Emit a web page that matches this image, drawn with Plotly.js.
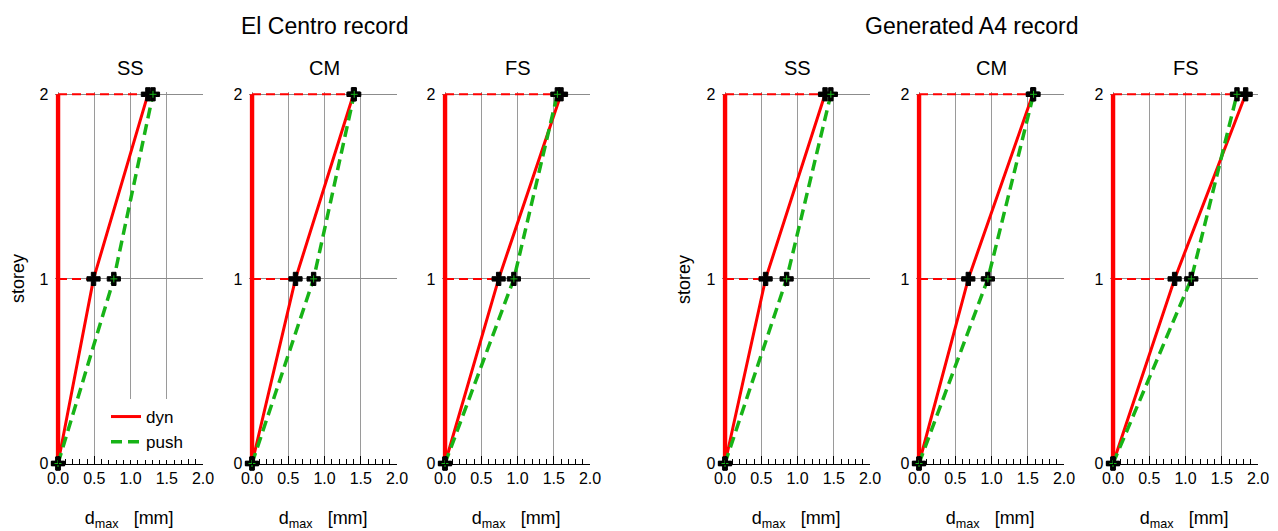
<!DOCTYPE html>
<html><head><meta charset="utf-8">
<script src="https://cdn.plot.ly/plotly-3.0.1.min.js"></script>
<style>html,body{margin:0;padding:0;background:#fff}#chart{width:1278px;height:531px}</style>
</head><body><div id="chart"></div>
<script>
// ---- data ----
const storeys = [0, 1, 2];
const recordTitles = ['El Centro record', 'Generated A4 record'];
const panelTitles = ['SS', 'CM', 'FS'];
const seriesNames = ['dyn', 'push'];
const xTitle = 'd<sub>max</sub>\u00a0\u00a0\u00a0[mm]';
const yTitle = 'storey';

const elCentroSSDyn  = [0, 0.49, 1.24];
const elCentroSSPush = [0, 0.77, 1.31];
const elCentroCMDyn  = [0, 0.60, 1.40];
const elCentroCMPush = [0, 0.85, 1.41];
const elCentroFSDyn  = [0, 0.74, 1.60];
const elCentroFSPush = [0, 0.95, 1.55];
const a4SSDyn  = [0, 0.56, 1.38];
const a4SSPush = [0, 0.85, 1.46];
const a4CMDyn  = [0, 0.68, 1.57];
const a4CMPush = [0, 0.95, 1.58];
const a4FSDyn  = [0, 0.85, 1.83];
const a4FSPush = [0, 1.08, 1.71];

// ---- layout helpers ----
const W = 1278, H = 531;
const panels = [
  {dyn: elCentroSSDyn, push: elCentroSSPush, title: panelTitles[0], px: [58, 203]},
  {dyn: elCentroCMDyn, push: elCentroCMPush, title: panelTitles[1], px: [252, 397]},
  {dyn: elCentroFSDyn, push: elCentroFSPush, title: panelTitles[2], px: [445, 590]},
  {dyn: a4SSDyn, push: a4SSPush, title: panelTitles[0], px: [725, 870]},
  {dyn: a4CMDyn, push: a4CMPush, title: panelTitles[1], px: [919, 1064]},
  {dyn: a4FSDyn, push: a4FSPush, title: panelTitles[2], px: [1113, 1258]}
];
// small padding so thick lines at the plot edges are not clipped
const XPAD = 0.035, YPAD = 0.015;
const yBottom = 463.5, yTop = 94.3;
const yScale = (yBottom - yTop) / 2;
const yDom = [(H - yBottom) / H, (H - (yTop - YPAD * yScale)) / H];
const RED = '#ff0000', GREEN = '#17b317';
const FONT = 'Liberation Sans, Arial, Helvetica, sans-serif';

const traces = [];
const layout = {
  width: W, height: H,
  margin: {l: 0, r: 0, t: 0, b: 0},
  paper_bgcolor: '#fff', plot_bgcolor: 'rgba(0,0,0,0)',
  font: {family: FONT, size: 16, color: '#000'},
  showlegend: true,
  legend: {x: 106 / W, y: (H - 399) / H, xanchor: 'left', yanchor: 'top',
           bgcolor: '#fff', borderwidth: 0, font: {size: 17}, tracegroupgap: 0},
  annotations: [],
};

panels.forEach((p, i) => {
  const n = i + 1;
  const xa = 'x' + (n === 1 ? '' : n), ya = 'y' + (n === 1 ? '' : n);
  const xk = 'xaxis' + (n === 1 ? '' : n), yk = 'yaxis' + (n === 1 ? '' : n);
  const xScale = (p.px[1] - p.px[0]) / 2;
  layout[xk] = {
    domain: [(p.px[0] - XPAD * xScale) / W, p.px[1] / W], anchor: ya, range: [-XPAD, 2],
    dtick: 0.5, tick0: 0, tickformat: '.1f', ticks: 'inside', ticklen: 8, tickcolor: '#000', tickwidth: 1,
    minor: {dtick: 0.1, tick0: 0, ticks: 'inside', ticklen: 5, tickcolor: '#000', tickwidth: 1, showgrid: false},
    showline: true, linecolor: '#000', linewidth: 1.5,
    showgrid: true, gridcolor: '#9a9a9a', gridwidth: 1, zeroline: false,
    tickfont: {size: 16},
    title: {text: xTitle, font: {size: 18}, standoff: 26},
    fixedrange: true
  };
  layout[yk] = {
    domain: yDom, anchor: xa, range: [0, 2 + YPAD], dtick: 1, tick0: 0,
    ticks: '', showline: false, showgrid: true, gridcolor: '#8c8c8c', gridwidth: 1, zeroline: false,
    tickfont: {size: 16}, ticklabelstandoff: 6, fixedrange: true
  };
  const common = {xaxis: xa, yaxis: ya, cliponaxis: false, hoverinfo: 'skip'};
  // storey axis (thick red)
  traces.push(Object.assign({x: storeys.map(() => 0), y: storeys, mode: 'lines',
    line: {color: RED, width: 4.5}, showlegend: false}, common));
  // dashed storey levels
  storeys.slice(1).forEach(s => {
    traces.push(Object.assign({x: [0, p.dyn[s]], y: [s, s], mode: 'lines',
      line: {color: RED, width: 2, dash: '9px,5px'}, showlegend: false}, common));
  });
  // dyn
  traces.push(Object.assign({x: p.dyn, y: storeys, mode: 'lines', name: seriesNames[0],
    showlegend: i === 0, line: {color: RED, width: 3}}, common));
  // push
  traces.push(Object.assign({x: p.push, y: storeys, mode: 'lines', name: seriesNames[1],
    showlegend: i === 0, line: {color: GREEN, width: 3.5, dash: '11px,6px'}}, common));
  // markers
  traces.push(Object.assign({x: p.dyn, y: storeys, mode: 'markers', showlegend: false,
    marker: {symbol: 'cross', size: 11, color: '#000', line: {color: '#000', width: 1}}}, common));
  traces.push(Object.assign({x: p.push, y: storeys, mode: 'markers', showlegend: false,
    marker: {symbol: 'cross', size: 11, color: '#000', line: {color: '#000', width: 1}}}, common));
  traces.push(Object.assign({x: p.push, y: storeys, mode: 'markers', showlegend: false,
    marker: {symbol: 'cross-thin-open', size: 5, color: GREEN, line: {color: GREEN, width: 1}}}, common));
  // subplot title
  layout.annotations.push({text: p.title, xref: 'paper', yref: 'paper',
    x: (p.px[0] + p.px[1]) / 2 / W, y: (H - 68) / H, xanchor: 'center', yanchor: 'middle',
    showarrow: false, font: {size: 20}});
});

// record titles
[[324.5, recordTitles[0]], [972, recordTitles[1]]].forEach(([cx, t]) => {
  layout.annotations.push({text: t, xref: 'paper', yref: 'paper', x: cx / W, y: (H - 26) / H,
    xanchor: 'center', yanchor: 'middle', showarrow: false, font: {size: 23}});
});
// y titles
[18, 684].forEach(cx => {
  layout.annotations.push({text: yTitle, xref: 'paper', yref: 'paper', x: cx / W, y: (H - 279) / H,
    xanchor: 'center', yanchor: 'middle', textangle: -90, showarrow: false, font: {size: 18}});
});

Plotly.newPlot('chart', traces, layout, {staticPlot: true, displayModeBar: false});
</script>
</body></html>
